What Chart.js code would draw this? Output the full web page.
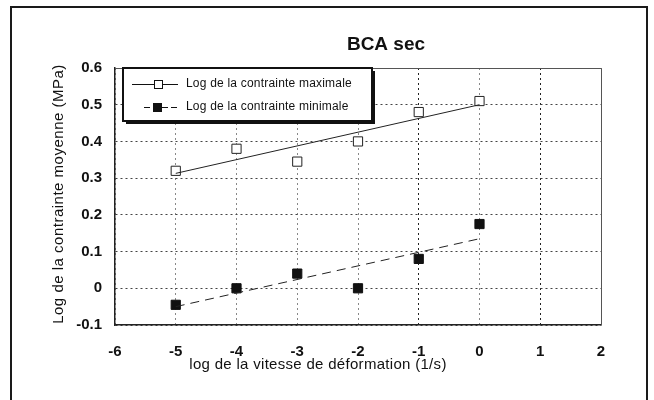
<!DOCTYPE html>
<html lang="fr">
<head>
<meta charset="UTF-8" />
<title>BCA sec</title>
<script src="https://cdn.jsdelivr.net/npm/chart.js"></script>
<style>
  * { margin: 0; padding: 0; box-sizing: border-box; }
  body {
    width: 654px;
    height: 400px;
    background: #fff;
    overflow: hidden;
    position: relative;
    font-family: 'Liberation Sans', Arial, sans-serif;
  }
  .frame {
    position: absolute;
    left: 10px;
    top: 6px;
    width: 638px;
    height: 410px;
    border: 2px solid #1a1a1a;
  }
  canvas { position: absolute; left: 0; top: 0; }
</style>
</head>
<body>
<div class="frame"></div>
<canvas id="chart" width="654" height="400"></canvas>
<script>
  // values
  const rates = [-5, -4, -3, -2, -1, 0];
  const maxStress = [0.32, 0.38, 0.345, 0.40, 0.48, 0.51];
  const minStress = [-0.045, 0, 0.04, 0, 0.08, 0.175];
  const trendX = [-5, 0];
  const maxTrend = [0.313, 0.50];
  const minTrend = [-0.05, 0.135];
  const xTicks = [-6, -5, -4, -3, -2, -1, 0, 1, 2];
  const yTicks = [-0.1, 0, 0.1, 0.2, 0.3, 0.4, 0.5, 0.6];

  const title = 'BCA sec';
  const xTitle = 'log de la vitesse de déformation (1/s)';
  const yTitle = 'Log de la contrainte moyenne (MPa)';
  const legendMax = 'Log de la contrainte maximale';
  const legendMin = 'Log de la contrainte minimale';

  const FONT = "'Liberation Sans', Arial, sans-serif";
  const pts = (xs, ys) => xs.map((x, i) => ({ x: x, y: ys[i] }));

  // titles, plot box and the boxed legend
  const decor = {
    id: 'decor',
    afterDraw(chart) {
      const c = chart.ctx;
      const a = chart.chartArea;
      c.save();

      // top and right edge of the plot box
      c.strokeStyle = '#555';
      c.lineWidth = 1;
      c.beginPath();
      c.moveTo(a.left, a.top + 0.5);
      c.lineTo(a.right + 0.5, a.top + 0.5);
      c.lineTo(a.right + 0.5, a.bottom);
      c.stroke();

      c.fillStyle = '#111';
      c.textAlign = 'center';
      c.textBaseline = 'middle';
      c.font = 'bold 19px ' + FONT;
      c.fillText(title, 386, 45);

      c.font = '15px ' + FONT;
      c.letterSpacing = '0.3px';
      c.fillText(xTitle, 318, 365);
      c.save();
      c.translate(59, 194);
      c.rotate(-Math.PI / 2);
      c.letterSpacing = '0.5px';
      c.fillText(yTitle, 0, 0);
      c.restore();

      // legend box with heavy shadowed border
      const lx = 123, ly = 68, lw = 249, lh = 53;
      c.fillStyle = '#fff';
      c.fillRect(lx, ly, lw, lh);
      c.fillStyle = '#111';
      c.fillRect(lx + 3, ly + lh, lw, 3);
      c.fillRect(lx + lw, ly + 3, 3, lh);
      c.strokeStyle = '#111';
      c.lineWidth = 2;
      c.strokeRect(lx, ly, lw, lh);

      c.lineWidth = 1;
      c.beginPath();
      c.moveTo(132, 84.5);
      c.lineTo(178, 84.5);
      c.stroke();
      c.fillStyle = '#fff';
      c.fillRect(154, 80, 9, 9);
      c.strokeRect(154.5, 80.5, 8, 8);

      c.setLineDash([6, 3]);
      c.beginPath();
      c.moveTo(144, 107.5);
      c.lineTo(178, 107.5);
      c.stroke();
      c.setLineDash([]);
      c.fillStyle = '#111';
      c.fillRect(153, 103, 9, 9);

      c.font = '12px ' + FONT;
      c.letterSpacing = '0.2px';
      c.textAlign = 'left';
      c.fillText(legendMax, 186, 84);
      c.fillText(legendMin, 186, 107);
      c.restore();
    }
  };

  new Chart(document.getElementById('chart'), {
    type: 'scatter',
    data: {
      datasets: [
        {
          label: legendMax + ' (fit)',
          type: 'line',
          data: pts(trendX, maxTrend),
          borderColor: '#222',
          borderWidth: 1,
          pointRadius: 0,
          fill: false
        },
        {
          label: legendMin + ' (fit)',
          type: 'line',
          data: pts(trendX, minTrend),
          borderColor: '#222',
          borderWidth: 1,
          borderDash: [9, 6],
          pointRadius: 0,
          fill: false
        },
        {
          label: legendMax,
          data: pts(rates, maxStress),
          pointStyle: 'rect',
          pointRadius: 6.5,
          pointBackgroundColor: '#fff',
          pointBorderColor: '#222',
          pointBorderWidth: 1
        },
        {
          label: legendMin,
          data: pts(rates, minStress),
          pointStyle: 'rect',
          pointRadius: 6.5,
          pointBackgroundColor: '#111',
          pointBorderColor: '#111',
          pointBorderWidth: 1
        }
      ]
    },
    options: {
      responsive: false,
      animation: false,
      layout: { padding: { left: 0, top: 68, right: 53, bottom: 0 } },
      plugins: {
        legend: { display: false },
        tooltip: { enabled: false }
      },
      scales: {
        x: {
          type: 'linear',
          min: -6,
          max: 2,
          afterBuildTicks: s => { s.ticks = xTicks.map(v => ({ value: v })); },
          afterFit: s => { s.height = 75; },
          grid: {
            color: ctx => (ctx.tick && (ctx.tick.value === -1 || ctx.tick.value === 1)) ? '#222' : '#888',
            lineWidth: 1,
            drawTicks: false
          },
          border: { color: '#222', width: 1.5, dash: [2, 3] },
          ticks: {
            padding: 18,
            color: '#111',
            font: { family: FONT, size: 15, weight: 'bold' },
            callback: v => String(v)
          }
        },
        y: {
          min: -0.1,
          max: 0.6,
          afterBuildTicks: s => { s.ticks = yTicks.map(v => ({ value: v })); },
          afterFit: s => { s.width = 115; },
          grid: { color: '#444', lineWidth: 1, drawTicks: false },
          border: { color: '#222', width: 1.5, dash: [2, 3] },
          ticks: {
            padding: 13,
            color: '#111',
            font: { family: FONT, size: 15, weight: 'bold' },
            callback: v => String(Math.round(v * 10) / 10)
          }
        }
      }
    },
    plugins: [decor]
  });
</script>
</body>
</html>
